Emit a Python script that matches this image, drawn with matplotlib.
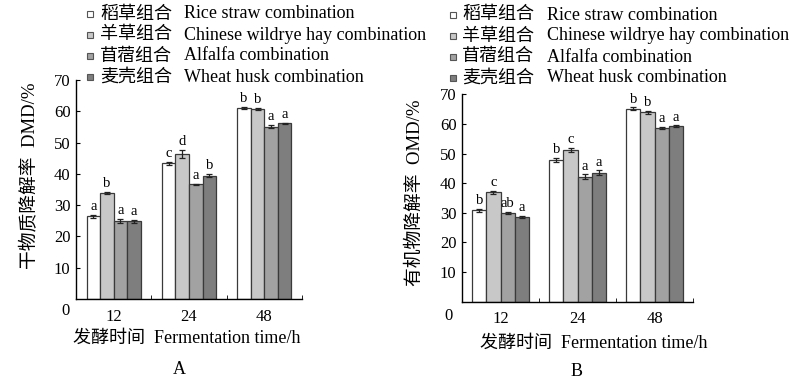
import matplotlib
matplotlib.use("Agg")
import matplotlib.pyplot as plt
import numpy as np
from matplotlib.patches import Rectangle

plt.rcParams['font.family'] = ['Liberation Serif', 'Noto Sans CJK SC']
plt.rcParams['axes.unicode_minus'] = False

times = ["12", "24", "48"]
series_cn = ["稻草组合", "羊草组合", "苜蓿组合", "麦壳组合"]
series_en = ["Rice straw combination", "Chinese wildrye hay combination",
             "Alfalfa combination", "Wheat husk combination"]
colors = ["#ffffff", "#c8c8c8", "#a2a2a2", "#7e7e7e"]

# DMD (%) per series, across 12/24/48 h
dmd_rice = [26.4, 43.4, 61.1]
dmd_wildrye = [33.9, 46.3, 60.8]
dmd_alfalfa = [25.0, 36.7, 55.1]
dmd_wheat = [24.8, 39.4, 56.2]
dmd_err_rice = [0.5, 0.5, 0.3]
dmd_err_wildrye = [0.3, 1.3, 0.3]
dmd_err_alfalfa = [0.7, 0.2, 0.5]
dmd_err_wheat = [0.6, 0.5, 0.2]
dmd_letters = [["a", "c", "b"], ["b", "d", "b"], ["a", "a", "a"], ["a", "b", "a"]]

# OMD (%)
omd_rice = [30.8, 47.8, 65.1]
omd_wildrye = [36.9, 51.2, 63.9]
omd_alfalfa = [29.9, 42.2, 58.6]
omd_wheat = [28.7, 43.5, 59.2]
omd_err_rice = [0.6, 0.8, 0.5]
omd_err_wildrye = [0.5, 0.7, 0.4]
omd_err_alfalfa = [0.3, 0.8, 0.3]
omd_err_wheat = [0.3, 0.8, 0.3]
omd_letters = [["b", "b", "b"], ["c", "c", "b"], ["ab", "a", "a"], ["a", "a", "a"]]

dmd = [dmd_rice, dmd_wildrye, dmd_alfalfa, dmd_wheat]
dmd_err = [dmd_err_rice, dmd_err_wildrye, dmd_err_alfalfa, dmd_err_wheat]
omd = [omd_rice, omd_wildrye, omd_alfalfa, omd_wheat]
omd_err = [omd_err_rice, omd_err_wildrye, omd_err_alfalfa, omd_err_wheat]

fig = plt.figure(figsize=(8.0, 3.81), dpi=100)
axA = fig.add_axes([0.095, 0.2152, 0.2825, 0.5748])
axB = fig.add_axes([0.5775, 0.2081, 0.289, 0.5443])

def draw(ax, vals, errs, letters, bw):
    x = np.arange(len(times))
    for i in range(4):
        pos = x + (i - 1.5) * bw
        ax.bar(pos, vals[i], width=bw, color=colors[i], edgecolor="#3a3a3a",
               linewidth=0.9, zorder=2)
        ax.errorbar(pos, vals[i], yerr=errs[i], fmt="none", ecolor="#222222",
                    elinewidth=0.9, capsize=2.2, capthick=0.9, zorder=3)
        for j in range(len(times)):
            ax.text(pos[j], vals[i][j] + errs[i][j] + 0.6, letters[i][j],
                    ha="center", va="bottom", fontsize=10.5)
    ax.set_xlim(-0.5, 2.5)
    ax.set_ylim(0, 70)
    ax.set_yticks([10, 20, 30, 40, 50, 60, 70])
    ax.set_xticks(x)
    ax.set_xticklabels(times)
    ax.set_xticks([0.5, 1.5, 2.5], minor=True)
    ax.tick_params(axis="x", which="major", length=0, labelsize=12, pad=7)
    ax.tick_params(axis="x", which="minor", direction="in", length=3)
    ax.tick_params(axis="y", direction="in", length=3, labelsize=12, pad=4)
    ax.spines["top"].set_visible(False)
    ax.spines["right"].set_visible(False)
    for s in ("left", "bottom"):
        ax.spines[s].set_linewidth(1.0)

draw(axA, dmd, dmd_err, dmd_letters, 0.18)
draw(axB, omd, omd_err, omd_letters, 0.184)

def px(x, y):
    return x / 800.0, 1 - y / 381.0

# "0" labels at origin
fig.text(*px(65, 311), "0", ha="center", va="center", fontsize=12)
fig.text(*px(448, 316), "0", ha="center", va="center", fontsize=12)

# y labels
fig.text(*px(30, 176), "干物质降解率  DMD/%", rotation=90, ha="center", va="center", fontsize=13.5)
fig.text(*px(415, 193), "有机物降解率  OMD/%", rotation=90, ha="center", va="center", fontsize=13.5)

# x labels
fig.text(*px(187, 338), "发酵时间  Fermentation time/h", ha="center", va="center", fontsize=13)
fig.text(*px(594, 343), "发酵时间  Fermentation time/h", ha="center", va="center", fontsize=13)

# panel letters
fig.text(*px(179, 369), "A", ha="center", va="center", fontsize=13)
fig.text(*px(577, 372), "B", ha="center", va="center", fontsize=13)

# legends
def legend(xm, xcn, xen, y0):
    for i in range(4):
        y = y0 + 21 * i
        fx, fy = px(xm - 3, y + 3)
        fig.add_artist(Rectangle((fx, fy), 6 / 800, 6 / 381, transform=fig.transFigure,
                                 facecolor=colors[i], edgecolor="#555555", linewidth=0.8))
        fig.text(*px(xcn, y), series_cn[i], ha="left", va="center", fontsize=13)
        fig.text(*px(xen, y), series_en[i], ha="left", va="center", fontsize=13)

legend(90, 100, 184, 14)
legend(453, 462, 547, 15)

fig.savefig("out.png", dpi=100)
